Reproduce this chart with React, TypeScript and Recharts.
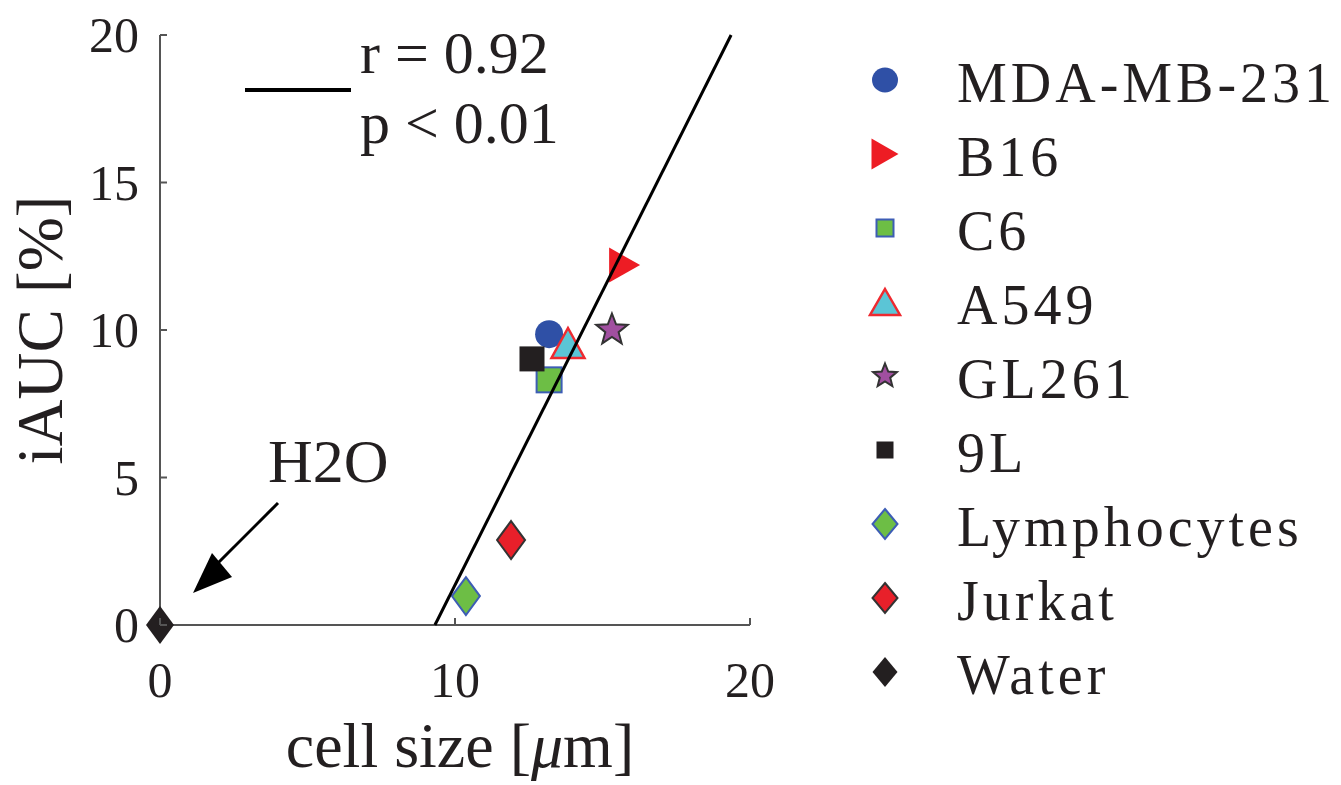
import React from 'react';
import { ScatterChart, Scatter, XAxis, YAxis, Legend, Label } from 'recharts';

const seriesNames = ['MDA-MB-231', 'B16', 'C6', 'A549', 'GL261', '9L', 'Lymphocytes', 'Jurkat', 'Water'];
const cellSize = [13.19, 15.75, 13.19, 13.83, 15.32, 12.61, 10.37, 11.9, 0];
const iAUC = [9.86, 12.2, 8.31, 9.56, 10.0, 9.02, 0.98, 2.88, 0];
const markerKinds = ['circle', 'triangleRight', 'square', 'triangleUp', 'star', 'square', 'diamond', 'diamond', 'diamond'];
const fills = ['#2F50A6', '#ED1C24', '#6DBE45', '#5BC5D6', '#A14FA0', '#231F20', '#6DBE45', '#E8202A', '#231F20'];
const strokes = ['none', 'none', '#3D5DB5', '#EE2A30', '#333333', 'none', '#3D5DB5', '#333333', 'none'];
const xTicks = [0, 10, 20];
const yTicks = [0, 5, 10, 15, 20];
const fitX = [9.32, 19.36];
const fitY = [0, 20];

const FONT = '"Liberation Serif", "Times New Roman", serif';
const INK = '#231F20';

type Dims = { circ: [number, number]; tri: [number, number]; triUp: [number, number]; sq: number; star: [number, number]; dia: [number, number] };
const plotDims: Dims = { circ: [28, 28], tri: [31, 35], triUp: [33, 30], sq: 25, star: [16.5, 7], dia: [28, 38] };
const legendDims: Dims = { circ: [26, 25], tri: [27, 31], triUp: [30, 26], sq: 17, star: [12.5, 5.5], dia: [25, 30] };

function drawMarker(kind: string, cx: number, cy: number, fill: string, stroke: string, d: Dims) {
  const sw = stroke === 'none' ? 0 : 2;
  switch (kind) {
    case 'circle':
      return <ellipse cx={cx} cy={cy} rx={d.circ[0] / 2} ry={d.circ[1] / 2} fill={fill} />;
    case 'triangleRight': {
      const [w, h] = d.tri;
      return <polygon points={`${cx - w / 2},${cy - h / 2} ${cx + w / 2},${cy} ${cx - w / 2},${cy + h / 2}`} fill={fill} />;
    }
    case 'triangleUp': {
      const [w, h] = d.triUp;
      return <polygon points={`${cx},${cy - h / 2} ${cx + w / 2},${cy + h / 2} ${cx - w / 2},${cy + h / 2}`} fill={fill} stroke={stroke} strokeWidth={2.5} strokeLinejoin="miter" />;
    }
    case 'square':
      return <rect x={cx - d.sq / 2} y={cy - d.sq / 2} width={d.sq} height={d.sq} fill={fill} stroke={stroke} strokeWidth={sw} />;
    case 'star': {
      const [R, r] = d.star;
      const pts: string[] = [];
      for (let i = 0; i < 10; i++) {
        const rad = i % 2 === 0 ? R : r;
        const a = -Math.PI / 2 + (i * Math.PI) / 5;
        pts.push(`${cx + rad * Math.cos(a)},${cy + rad * Math.sin(a)}`);
      }
      return <polygon points={pts.join(' ')} fill={fill} stroke={stroke} strokeWidth={2} />;
    }
    case 'diamond':
    default: {
      const [w, h] = d.dia;
      return <polygon points={`${cx},${cy - h / 2} ${cx + w / 2},${cy} ${cx},${cy + h / 2} ${cx - w / 2},${cy}`} fill={fill} stroke={stroke} strokeWidth={sw} />;
    }
  }
}

const seriesData = seriesNames.map((name, i) => ({ name, data: [{ x: cellSize[i], y: iAUC[i] }] }));
const fitData = fitX.map((x, i) => ({ x, y: fitY[i] }));

const XTick = (p: any) => (
  <g>
    <line x1={p.x} x2={p.x} y1={p.y - 10} y2={p.y - 17} stroke="#555" strokeWidth={2} />
    <text x={p.x} y={p.y + 62} textAnchor="middle" fontFamily={FONT} fontSize={50} fill={INK}>{p.payload.value}</text>
  </g>
);

const YTick = (p: any) => (
  <g>
    <line x1={p.x + 21} x2={p.x + 28} y1={p.y} y2={p.y} stroke="#555" strokeWidth={2} />
    <text x={p.x} y={p.y + 17} textAnchor="end" fontFamily={FONT} fontSize={50} fill={INK}>{p.payload.value}</text>
  </g>
);

const XLabel = (p: any) => {
  const vb = p.viewBox || { x: 160, y: 625, width: 590, height: 150 };
  return (
    <text x={vb.x + vb.width / 2 + 5} y={vb.y + 142} textAnchor="middle" fontFamily={FONT} fontSize={64} fill={INK}>
      cell size [<tspan fontStyle="italic">μ</tspan>m]
    </text>
  );
};

const YLabel = (p: any) => {
  const vb = p.viewBox || { x: 50, y: 35, width: 110, height: 590 };
  const x = vb.x + 12;
  const y = vb.y + vb.height / 2;
  return (
    <text x={x} y={y} transform={`rotate(-90 ${x} ${y})`} textAnchor="middle" fontFamily={FONT} fontSize={65} fill={INK}>
      iAUC [%]
    </text>
  );
};

const LegendContent = () => (
  <svg width={490} height={680} style={{ overflow: 'visible' }}>
    {seriesNames.map((name, i) => {
      const cy = 40 + i * 74;
      return (
        <g key={name}>
          {drawMarker(markerKinds[i], 35, cy, fills[i], strokes[i], legendDims)}
          <text x={107} y={cy + 22} fontFamily={FONT} fontSize={56} letterSpacing={4} fill={INK}>{name}</text>
        </g>
      );
    })}
  </svg>
);

export default function App() {
  return (
    <div style={{ position: 'relative', width: 1341, height: 785, margin: '-8px 0 0 -8px', background: '#fff' }}>
      <ScatterChart width={1341} height={785} margin={{ top: 35, right: 591, bottom: 10, left: 50 }}>
        <XAxis
          type="number"
          dataKey="x"
          domain={[0, 20]}
          ticks={xTicks}
          interval={0}
          height={150}
          tickSize={0}
          tickMargin={10}
          tickLine={false}
          tick={XTick}
          axisLine={{ stroke: '#555', strokeWidth: 2 }}
        >
          <Label content={XLabel} />
        </XAxis>
        <YAxis
          type="number"
          dataKey="y"
          domain={[0, 20]}
          ticks={yTicks}
          interval={0}
          width={110}
          tickSize={0}
          tickMargin={21}
          tickLine={false}
          tick={YTick}
          axisLine={{ stroke: '#555', strokeWidth: 2 }}
        >
          <Label content={YLabel} />
        </YAxis>
        {seriesData.map((s, i) => (
          <Scatter
            key={s.name}
            name={s.name}
            data={s.data}
            fill={fills[i]}
            isAnimationActive={false}
            shape={(p: any) => drawMarker(markerKinds[i], p.cx, p.cy, fills[i], strokes[i], plotDims)}
          />
        ))}
        <Scatter
          name="fit"
          data={fitData}
          line={{ stroke: '#000', strokeWidth: 3 }}
          shape={() => <g />}
          legendType="none"
          isAnimationActive={false}
        />
        <Legend
          layout="vertical"
          align="center"
          verticalAlign="middle"
          wrapperStyle={{ left: 850, top: 40, width: 490, height: 680 }}
          content={LegendContent}
        />
      </ScatterChart>
      <svg width={1341} height={785} style={{ position: 'absolute', left: 0, top: 0, pointerEvents: 'none' }}>
        <line x1={245} x2={351} y1={90} y2={90} stroke="#000" strokeWidth={4} />
        <text x={360} y={73} fontFamily={FONT} fontSize={60} fill={INK}>r = 0.92</text>
        <text x={360} y={143} fontFamily={FONT} fontSize={60} fill={INK}>p &lt; 0.01</text>
        <text x={268} y={482} fontFamily={FONT} fontSize={62} fill={INK}>H2O</text>
        <line x1={278} y1={503} x2={213} y2={568} stroke="#000" strokeWidth={3} />
        <polygon points="193,593 212,553 232,577" fill="#000" />
      </svg>
    </div>
  );
}
